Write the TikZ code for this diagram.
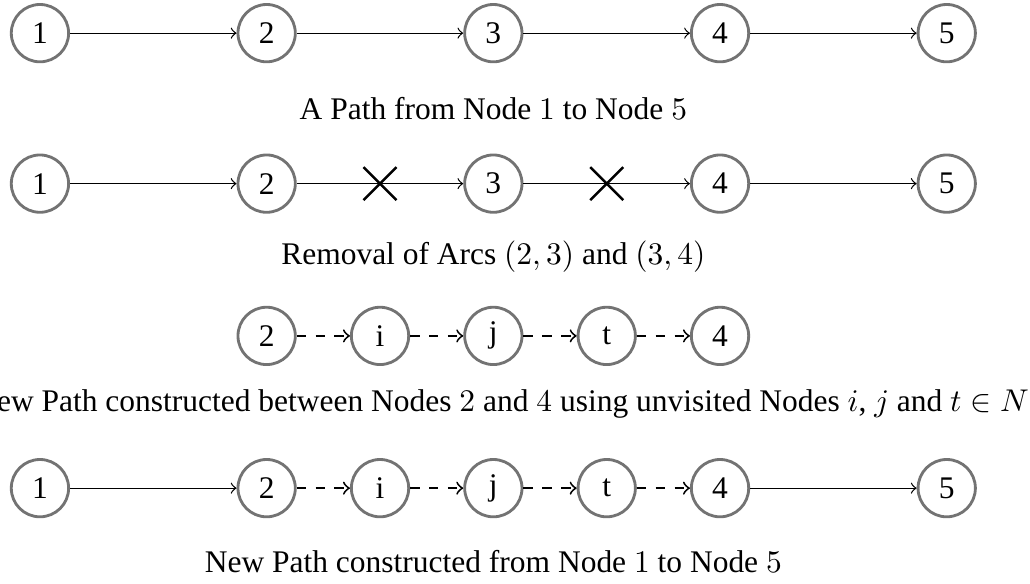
\documentclass[tikz,border=0pt]{standalone}
\usepackage{fontspec}
\setmainfont{Liberation Serif}
\usetikzlibrary{shapes.misc}

\begin{document}
\begin{tikzpicture}[
  vertex/.style={circle, draw=black!55, line width=0.9pt, minimum size=0.64cm, inner sep=0pt},
  cutmark/.style={cross out, draw=black, line width=0.8pt, minimum size=0.34cm, inner sep=0pt},
  newarc/.style={->, semithick, dashed}]
  \useasboundingbox (0,0) rectangle (11.5,-6.51);

  % the path from 1 to 5
  \foreach \n/\x in {1/0.446, 2/2.977, 3/5.508, 4/8.039, 5/10.57}
    \node[vertex] (a\n) at (\x,-0.37) {\n};
  \foreach \u/\v in {1/2, 2/3, 3/4, 4/5}
    \draw[->] (a\u) -- (a\v);
  \node (capa) at (5.508,-1.21) {A Path from Node $1$ to Node $5$};

  % arcs (2,3) and (3,4) taken out
  \foreach \n/\x in {1/0.446, 2/2.977, 3/5.508, 4/8.039, 5/10.57}
    \node[vertex] (b\n) at (\x,-2.05) {\n};
  \draw[->] (b1) -- (b2);
  \draw[->] (b2) -- node[cutmark] (x23) {} (b3);
  \draw[->] (b3) -- node[cutmark] (x34) {} (b4);
  \draw[->] (b4) -- (b5);
  \node (capb) at (5.508,-2.87) {Removal of Arcs $(2,3)$ and $(3,4)$};

  % detour through unvisited nodes
  \foreach \n/\x in {2/2.977, i/4.243, j/5.508, t/6.774, 4/8.039}
    \node[vertex] (c\n) at (\x,-3.75) {\n};
  \foreach \u/\v in {2/i, i/j, j/t, t/4}
    \draw[newarc] (c\u) -- (c\v);
  \node (capc) at (5.6,-4.51) {New Path constructed between Nodes $2$ and $4$ using unvisited Nodes $i$, $j$ and $t \in N$};

  % the new path
  \foreach \n/\x in {1/0.446, 2/2.977, i/4.243, j/5.508, t/6.774, 4/8.039, 5/10.57}
    \node[vertex] (d\n) at (\x,-5.45) {\n};
  \draw[->] (d1) -- (d2);
  \foreach \u/\v in {2/i, i/j, j/t, t/4}
    \draw[newarc] (d\u) -- (d\v);
  \draw[->] (d4) -- (d5);
  \node (capd) at (5.508,-6.27) {New Path constructed from Node $1$ to Node $5$};
\end{tikzpicture}
\end{document}
